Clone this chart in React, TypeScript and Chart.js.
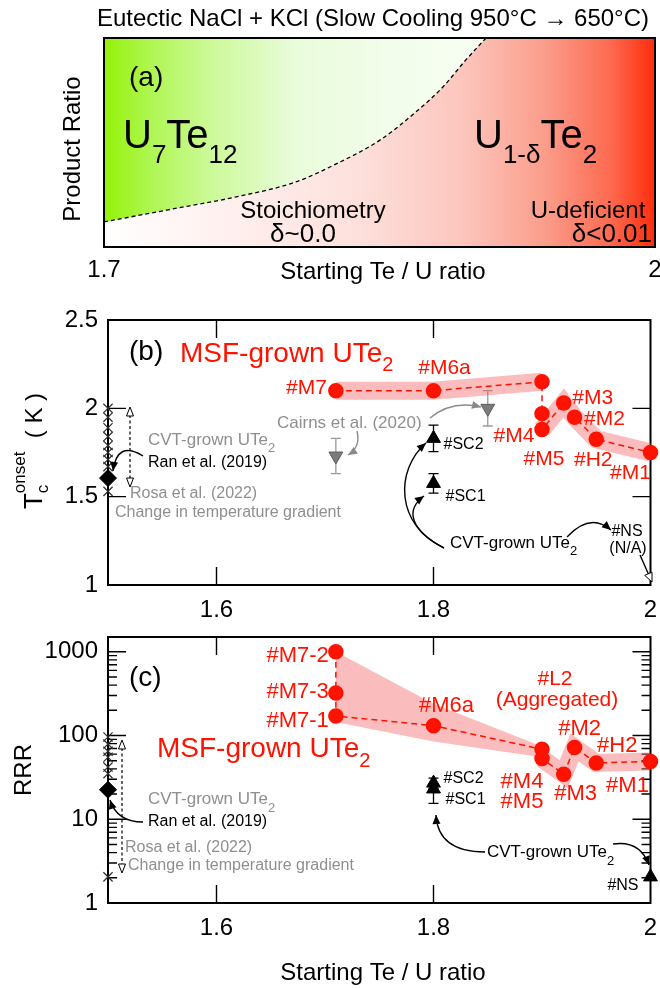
import React, { useEffect, useRef } from "react";
import { Chart, registerables } from "chart.js";

Chart.register(...registerables);

const FONT = "'Liberation Sans', Arial, Helvetica, sans-serif";
const RED = "#ff1200";
const BAND = "rgba(244, 96, 96, 0.42)";
const GRAY = "#8f8f8f";

// ---------- (a) product map ----------
const boundaryRatio = [1.7, 1.735, 1.772, 1.804, 1.827, 1.85, 1.869, 1.885, 1.896, 1.908];
const boundaryLevel = [0.12, 0.178, 0.24, 0.31, 0.4, 0.51, 0.64, 0.77, 0.885, 1.0];
const ratioTicksA = [1.7, 2.0];

// ---------- (b) onset Tc ----------
const ratioTicks = [1.6, 1.8, 2.0];
const tcTicks = [1, 1.5, 2, 2.5];
const msfNamesB = ["#M7", "#M6a", "", "#M4", "#M5", "#M3", "#M2", "#H2", "#M1"];
const msfRatioB = [1.71, 1.8, 1.9, 1.9, 1.9, 1.92, 1.93, 1.95, 2.0];
const msfTcB = [2.1, 2.1, 2.15, 1.97, 1.88, 2.03, 1.95, 1.825, 1.75];
const cairnsRatio = [1.71, 1.85];
const cairnsTc = [1.73, 2.0];
const cairnsTcErr = [0.1, 0.1];
const cvtNamesB = ["#SC2", "#SC1"];
const cvtRatioB = [1.8, 1.8];
const cvtTc = [1.83, 1.575];
const cvtTcErr = [0.075, 0.055];
const rosaTc = [2.0, 1.95, 1.89, 1.84, 1.79, 1.75, 1.71, 1.67, 1.53];
const ranTc = [1.605];

// ---------- (c) RRR ----------
const rrrTicks = [1, 10, 100, 1000];
const msfNamesC = ["#M7-2", "#M7-3", "#M7-1", "#M6a", "#M4", "#M5", "#M3", "#M2", "#H2", "#M1"];
const msfRatioC = [1.71, 1.71, 1.71, 1.8, 1.9, 1.9, 1.92, 1.93, 1.95, 2.0];
const msfRrrC = [1000, 322, 171, 131, 68.5, 53, 34.5, 72, 47, 49];
const spreadRatioC = [1.71, 1.8, 1.9];
const spreadHighC = [1000, 240, 74];
const spreadLowC = [145, 85, 55];
const cvtNamesC = ["#SC2", "#SC1", "#NS"];
const cvtRatioC = [1.8, 1.8, 2.0];
const cvtRrr = [27, 23, 2.05];
const cvtRrrLow = [26, 15.5];
const cvtRrrHigh = [31, 23];
const rosaRrr = [96, 79, 65, 55, 42, 35, 2.05];
const ranRrr = [22.5];

const LIT_RATIO = 1.5;

const xy = (xs: number[], ys: number[]) => xs.map((x, i) => ({ x, y: ys[i] }));
const pick = (arr: any[], idx: number[]) => idx.map((i) => arr[i]);

type Part = { t: string; size: number; dy?: number; stay?: boolean };
const P = (t: string, size: number, dy = 0, stay = false): Part => ({ t, size, dy, stay });

function drawParts(ctx: CanvasRenderingContext2D, parts: Part[], x: number, y: number, align: string, color: string) {
  ctx.save();
  ctx.fillStyle = color;
  ctx.textBaseline = "alphabetic";
  ctx.textAlign = "left";
  const w = parts.map((p) => {
    ctx.font = `${p.size}px ${FONT}`;
    return ctx.measureText(p.t).width;
  });
  let total = 0;
  parts.forEach((p, i) => {
    if (!p.stay) total += w[i];
  });
  let cx = align === "left" ? x : align === "right" ? x - total : x - total / 2;
  parts.forEach((p, i) => {
    ctx.font = `${p.size}px ${FONT}`;
    ctx.fillText(p.t, cx, y + (p.dy || 0));
    if (!p.stay) cx += w[i];
  });
  ctx.restore();
}

function drawRotated(ctx: CanvasRenderingContext2D, parts: Part[], x: number, y: number, color: string) {
  ctx.save();
  ctx.translate(x, y);
  ctx.rotate(-Math.PI / 2);
  drawParts(ctx, parts, 0, 0, "center", color);
  ctx.restore();
}

function head(ctx: CanvasRenderingContext2D, tip: number[], from: number[], color: string, open: boolean, len = 9, half = 4) {
  const a = Math.atan2(tip[1] - from[1], tip[0] - from[0]);
  const bx = tip[0] - len * Math.cos(a);
  const by = tip[1] - len * Math.sin(a);
  const px = -Math.sin(a) * half;
  const py = Math.cos(a) * half;
  ctx.beginPath();
  ctx.moveTo(tip[0], tip[1]);
  ctx.lineTo(bx + px, by + py);
  ctx.lineTo(bx - px, by - py);
  ctx.closePath();
  if (open) {
    ctx.fillStyle = "#fff";
    ctx.fill();
    ctx.strokeStyle = color;
    ctx.lineWidth = 1;
    ctx.setLineDash([]);
    ctx.stroke();
  } else {
    ctx.fillStyle = color;
    ctx.fill();
  }
}

// curved annotation arrow: 2 points = straight, 3 = quadratic, 4 = cubic
function arrow(ctx: CanvasRenderingContext2D, pts: number[][], color: string, open = false) {
  ctx.save();
  ctx.strokeStyle = color;
  ctx.lineWidth = 1.4;
  const end = pts[pts.length - 1];
  const prev = pts[pts.length - 2];
  ctx.beginPath();
  ctx.moveTo(pts[0][0], pts[0][1]);
  if (pts.length === 2) {
    const a = Math.atan2(end[1] - prev[1], end[0] - prev[0]);
    ctx.lineTo(end[0] - 8 * Math.cos(a), end[1] - 8 * Math.sin(a));
  } else if (pts.length === 3) ctx.quadraticCurveTo(pts[1][0], pts[1][1], end[0], end[1]);
  else ctx.bezierCurveTo(pts[1][0], pts[1][1], pts[2][0], pts[2][1], end[0], end[1]);
  ctx.stroke();
  head(ctx, end, prev, color, open);
  ctx.restore();
}

function rangeArrow(ctx: CanvasRenderingContext2D, x: number, y0: number, y1: number) {
  ctx.save();
  ctx.strokeStyle = "#000";
  ctx.lineWidth = 1.2;
  ctx.setLineDash([3, 2.5]);
  ctx.beginPath();
  ctx.moveTo(x, y0 + 8);
  ctx.lineTo(x, y1 - 8);
  ctx.stroke();
  ctx.setLineDash([]);
  head(ctx, [x, y0], [x, y0 + 10], "#000", true, 9, 3.5);
  head(ctx, [x, y1], [x, y1 - 10], "#000", true, 9, 3.5);
  ctx.restore();
}

function frameAndTicks(chart: any, xMajor: number[], yMajor: number[], yMinor: number[] = []) {
  const { ctx, chartArea: a, scales } = chart;
  ctx.save();
  ctx.strokeStyle = "#000";
  ctx.lineWidth = 1.4;
  ctx.beginPath();
  const seg = (x0: number, y0: number, x1: number, y1: number) => {
    ctx.moveTo(x0, y0);
    ctx.lineTo(x1, y1);
  };
  xMajor.forEach((v) => {
    const p = scales.x.getPixelForValue(v);
    seg(p, a.bottom, p, a.bottom - 18);
    seg(p, a.top, p, a.top + 18);
  });
  yMajor.forEach((v) => {
    const p = scales.y.getPixelForValue(v);
    seg(a.left, p, a.left + 18, p);
    seg(a.right, p, a.right - 18, p);
  });
  yMinor.forEach((v) => {
    const p = scales.y.getPixelForValue(v);
    seg(a.left, p, a.left + 9, p);
    seg(a.right, p, a.right - 9, p);
  });
  ctx.stroke();
  ctx.lineWidth = 2;
  ctx.strokeRect(a.left, a.top, a.right - a.left, a.bottom - a.top);
  ctx.restore();
}

function errorBars(chart: any, xs: number[], lo: number[], hi: number[], color: string) {
  const { ctx, scales } = chart;
  ctx.save();
  ctx.strokeStyle = color;
  ctx.lineWidth = 1.3;
  ctx.beginPath();
  lo.forEach((l, i) => {
    const x = scales.x.getPixelForValue(xs[i]);
    const y0 = scales.y.getPixelForValue(l);
    const y1 = scales.y.getPixelForValue(hi[i]);
    ctx.moveTo(x, y0);
    ctx.lineTo(x, y1);
    ctx.moveTo(x - 5, y0);
    ctx.lineTo(x + 5, y0);
    ctx.moveTo(x - 5, y1);
    ctx.lineTo(x + 5, y1);
  });
  ctx.stroke();
  ctx.restore();
}

function pointLabels(chart: any, xs: number[], ys: number[], names: string[], offs: number[][], size: number, color: string) {
  const { ctx, scales } = chart;
  names.forEach((n, i) => {
    if (!n) return;
    const o = offs[i];
    const x = scales.x.getPixelForValue(xs[i]) + o[0];
    const y = scales.y.getPixelForValue(ys[i]) + o[1];
    drawParts(ctx, [P(n, size)], x, y, o[2] === -1 ? "right" : o[2] === 1 ? "left" : "center", color);
  });
}

const fmtRatio = (v: number) => (v === 2 ? "2" : v.toFixed(1));

function ratioAxis(min: number, ticks: number[], height: number, pad: number) {
  return {
    type: "linear",
    min,
    max: 2.0,
    afterBuildTicks: (s: any) => {
      s.ticks = ticks.map((v) => ({ value: v }));
    },
    afterFit: (s: any) => {
      s.height = height;
      s.paddingLeft = 0;
      s.paddingRight = 0;
    },
    ticks: {
      autoSkip: false,
      maxRotation: 0,
      padding: pad,
      color: "#000",
      font: { family: FONT, size: 24 },
      callback: (v: any) => fmtRatio(Number(v)),
    },
    grid: { display: false, drawTicks: false },
    border: { display: false },
  };
}

function valueAxis(type: string, min: number, max: number, ticks: number[]) {
  return {
    type,
    min,
    max,
    afterBuildTicks: (s: any) => {
      s.ticks = ticks.map((v) => ({ value: v }));
    },
    afterFit: (s: any) => {
      s.width = 108;
      s.paddingTop = 0;
      s.paddingBottom = 0;
    },
    ticks: {
      autoSkip: false,
      padding: 10,
      color: "#000",
      font: { family: FONT, size: 24 },
      callback: (v: any) => String(Number(v)),
    },
    grid: { display: false, drawTicks: false },
    border: { display: false },
  };
}

const baseOptions = {
  responsive: false,
  maintainAspectRatio: false,
  devicePixelRatio: 1,
  animation: false,
  events: [],
  plugins: { legend: { display: false }, tooltip: { enabled: false } },
};

const crossStyle = {
  pointStyle: "crossRot",
  pointRadius: 6.5,
  pointBorderColor: "#2e2e2e",
  pointBorderWidth: 1.2,
  order: 0,
  clip: false,
};

const diamondStyle = {
  pointStyle: "rectRot",
  pointRadius: 8.5,
  pointBackgroundColor: "#000",
  pointBorderColor: "#000",
  order: 0,
  clip: false,
};

function configA(): any {
  return {
    type: "scatter",
    data: {
      datasets: [
        {
          data: xy(boundaryRatio, boundaryLevel),
          showLine: true,
          cubicInterpolationMode: "monotone",
          borderColor: "#000",
          borderWidth: 1.3,
          borderDash: [4, 3],
          pointRadius: 0,
          fill: "end",
          backgroundColor: (c: any) => {
            const { chart } = c;
            const a = chart.chartArea;
            if (!a) return "transparent";
            const xEnd = chart.scales.x.getPixelForValue(boundaryRatio[boundaryRatio.length - 1]);
            const g = chart.ctx.createLinearGradient(a.left, 0, xEnd, 0);
            g.addColorStop(0, "#93f207");
            g.addColorStop(0.12, "#aef651");
            g.addColorStop(0.27, "#cbf995");
            g.addColorStop(0.5, "#e9fcdb");
            g.addColorStop(0.77, "#f3fdec");
            g.addColorStop(1, "#f6fef2");
            return g;
          },
        },
      ],
    },
    options: {
      ...baseOptions,
      layout: { padding: { left: 104, right: 5, top: 38, bottom: 0 } },
      scales: {
        x: { ...ratioAxis(1.7, ratioTicksA, 43, 9) },
        y: { type: "linear", min: 0, max: 1, display: false },
      },
    },
    plugins: [
      {
        id: "panelA",
        beforeDatasetsDraw(chart: any) {
          const { ctx, chartArea: a } = chart;
          const g = ctx.createLinearGradient(a.left, 0, a.right, 0);
          g.addColorStop(0, "#ffffff");
          g.addColorStop(0.15, "#fff5f4");
          g.addColorStop(0.45, "#fde1dd");
          g.addColorStop(0.65, "#fcc6bd");
          g.addColorStop(0.8, "#fb9d8b");
          g.addColorStop(0.92, "#fd6a50");
          g.addColorStop(1, "#ff2c0c");
          ctx.save();
          ctx.fillStyle = g;
          ctx.fillRect(a.left, a.top, a.right - a.left, a.bottom - a.top);
          ctx.restore();
        },
        afterDraw(chart: any) {
          const { ctx, chartArea: a } = chart;
          ctx.save();
          ctx.strokeStyle = "#000";
          ctx.lineWidth = 2;
          ctx.strokeRect(a.left, a.top, a.right - a.left, a.bottom - a.top);
          ctx.restore();
          drawParts(ctx, [P("Eutectic NaCl + KCl (Slow Cooling 950°C → 650°C)", 24)], 373, 26, "center", "#000");
          drawParts(ctx, [P("(a)", 28)], 129, 86, "left", "#000");
          drawParts(ctx, [P("U", 40), P("7", 26, 15), P("Te", 40), P("12", 26, 15)], 123, 148, "left", "#000");
          drawParts(ctx, [P("U", 40), P("1-δ", 26, 15), P("Te", 40), P("2", 26, 15)], 474, 148, "left", "#000");
          drawParts(ctx, [P("Stoichiometry", 24)], 313, 218, "center", "#000");
          drawParts(ctx, [P("δ~0.0", 26)], 303, 242, "center", "#000");
          drawParts(ctx, [P("U-deficient", 24)], 588, 218, "center", "#000");
          drawParts(ctx, [P("δ<0.01", 26)], 652, 242, "right", "#000");
          drawParts(ctx, [P("Starting Te / U ratio", 24)], 383, 279, "center", "#000");
          drawRotated(ctx, [P("Product Ratio", 24)], 80, 149, "#000");
        },
      },
    ],
  };
}

function configB(): any {
  const band1 = [0, 1, 2];
  const band2 = [4, 5, 6, 7, 8];
  return {
    type: "scatter",
    data: {
      datasets: [
        {
          data: xy(msfRatioB, msfTcB),
          showLine: true,
          borderColor: RED,
          borderWidth: 1.5,
          borderDash: [6, 4],
          pointRadius: 7,
          pointBackgroundColor: RED,
          pointBorderColor: RED,
          order: 1,
          clip: false,
        },
        {
          data: xy(cairnsRatio, cairnsTc),
          pointStyle: "triangle",
          pointRotation: 180,
          pointRadius: 8,
          pointBackgroundColor: "#7b7b7b",
          pointBorderColor: "#5e5e5e",
          pointBorderWidth: 1,
          order: 0,
        },
        {
          data: xy(cvtRatioB, cvtTc),
          pointStyle: "triangle",
          pointRadius: 8,
          pointBackgroundColor: "#000",
          pointBorderColor: "#000",
          order: 0,
        },
        { data: rosaTc.map((y) => ({ x: LIT_RATIO, y })), ...crossStyle },
        { data: ranTc.map((y) => ({ x: LIT_RATIO, y })), ...diamondStyle },
        {
          data: pick(xy(msfRatioB, msfTcB), band1),
          showLine: true,
          borderColor: BAND,
          borderWidth: 18,
          borderCapStyle: "butt",
          borderJoinStyle: "miter",
          pointRadius: 0,
          order: 5,
        },
        {
          data: pick(xy(msfRatioB, msfTcB), band2),
          showLine: true,
          borderColor: BAND,
          borderWidth: 18,
          borderCapStyle: "butt",
          borderJoinStyle: "miter",
          pointRadius: 0,
          order: 5,
        },
      ],
    },
    options: {
      ...baseOptions,
      layout: { padding: { left: 0, right: 5, top: 30, bottom: 0 } },
      scales: {
        x: ratioAxis(1.5, ratioTicks, 45, 11),
        y: valueAxis("linear", 1, 2.5, tcTicks),
      },
    },
    plugins: [
      {
        id: "panelB",
        beforeDatasetsDraw(chart: any) {
          frameAndTicks(chart, [1.6, 1.8], [1.5, 2]);
          errorBars(chart, cairnsRatio, cairnsTc.map((v, i) => v - cairnsTcErr[i]), cairnsTc.map((v, i) => v + cairnsTcErr[i]), "#9a9a9a");
          errorBars(chart, cvtRatioB, cvtTc.map((v, i) => v - cvtTcErr[i]), cvtTc.map((v, i) => v + cvtTcErr[i]), "#000");
        },
        afterDraw(chart: any) {
          const { ctx } = chart;
          pointLabels(chart, msfRatioB, msfTcB, msfNamesB,
            [[-9, 3, -1], [11, -17], [0, 0], [-28, 28], [2, 35], [29, 1], [30, 8], [-3, 27], [-20, 26]], 21, RED);
          pointLabels(chart, cvtRatioB, cvtTc, cvtNamesB, [[10, 11, 1], [12, 18, 1]], 16, "#000");
          drawParts(ctx, [P("(b)", 28)], 129, 70, "left", "#000");
          drawParts(ctx, [P("MSF-grown UTe", 28), P("2", 20, 9)], 180, 72, "left", RED);
          drawParts(ctx, [P("Cairns et al. (2020)", 17)], 277, 138, "left", GRAY);
          drawParts(ctx, [P("CVT-grown UTe", 17), P("2", 13, 7)], 148, 155, "left", GRAY);
          drawParts(ctx, [P("Ran et al. (2019)", 16)], 148, 177, "left", "#000");
          drawParts(ctx, [P("Rosa et al. (2022)", 16)], 130, 208, "left", GRAY);
          drawParts(ctx, [P("Change in temperature gradient", 16)], 115, 227, "left", GRAY);
          drawParts(ctx, [P("CVT-grown UTe", 17), P("2", 13, 7)], 450, 258, "left", "#000");
          drawParts(ctx, [P("#NS", 16)], 627, 246, "center", "#000");
          drawParts(ctx, [P("(N/A)", 16)], 628, 263, "center", "#000");
          arrow(ctx, [[143, 166], [117, 150], [113, 181]], "#000");
          arrow(ctx, [[357, 141], [361, 157], [348, 165]], "#8a8a8a");
          arrow(ctx, [[430, 128], [452, 110], [481, 117]], "#8a8a8a");
          arrow(ctx, [[444, 258], [395, 235], [395, 180], [426, 153]], "#000");
          arrow(ctx, [[444, 258], [410, 240], [405, 220], [424, 206]], "#000");
          arrow(ctx, [[567, 247], [590, 222], [611, 240]], "#000");
          arrow(ctx, [[640, 265], [652, 292]], "#000", true);
          rangeArrow(ctx, 130, 117, 197);
          drawRotated(ctx, [P("T", 26), P("c", 17, 6, true), P("onset", 17, -17), P("  ( K )", 24)], 42, 161, "#000");
        },
      },
    ],
  };
}

function configC(): any {
  const band = [5, 6, 7, 8, 9];
  const minor: number[] = [];
  [1, 10, 100].forEach((d) => {
    for (let k = 2; k <= 9; k++) minor.push(k * d);
  });
  return {
    type: "scatter",
    data: {
      datasets: [
        {
          data: xy(msfRatioC, msfRrrC),
          showLine: true,
          borderColor: RED,
          borderWidth: 1.5,
          borderDash: [6, 4],
          pointRadius: 7,
          pointBackgroundColor: RED,
          pointBorderColor: RED,
          order: 1,
          clip: false,
        },
        {
          data: xy(cvtRatioC, cvtRrr),
          pointStyle: "triangle",
          pointRadius: 8,
          pointBackgroundColor: "#000",
          pointBorderColor: "#000",
          order: 0,
          clip: false,
        },
        { data: rosaRrr.map((y) => ({ x: LIT_RATIO, y })), ...crossStyle },
        { data: ranRrr.map((y) => ({ x: LIT_RATIO, y })), ...diamondStyle },
        {
          data: xy(spreadRatioC, spreadHighC),
          showLine: true,
          borderWidth: 0,
          borderColor: "transparent",
          pointRadius: 0,
          fill: "+1",
          backgroundColor: BAND,
          order: 6,
        },
        {
          data: xy(spreadRatioC, spreadLowC),
          showLine: true,
          borderWidth: 0,
          borderColor: "transparent",
          pointRadius: 0,
          fill: false,
          order: 6,
        },
        {
          data: pick(xy(msfRatioC, msfRrrC), band),
          showLine: true,
          borderColor: BAND,
          borderWidth: 18,
          borderCapStyle: "butt",
          borderJoinStyle: "miter",
          pointRadius: 0,
          order: 5,
        },
      ],
    },
    options: {
      ...baseOptions,
      layout: { padding: { left: 0, right: 5, top: 17, bottom: 0 } },
      scales: {
        x: ratioAxis(1.5, ratioTicks, 85, 11),
        y: valueAxis("logarithmic", 1, 1500, rrrTicks),
      },
    },
    plugins: [
      {
        id: "panelC",
        beforeDatasetsDraw(chart: any) {
          frameAndTicks(chart, [1.6, 1.8], [10, 100, 1000], minor);
          errorBars(chart, cvtRatioC.slice(0, 2), cvtRrrLow, cvtRrrHigh, "#000");
        },
        afterDraw(chart: any) {
          const { ctx } = chart;
          pointLabels(chart, msfRatioC, msfRrrC, msfNamesC,
            [[-7, 10, -1], [-7, 5, -1], [-7, 11, -1], [13, -14], [-20, 39], [-20, 49], [12, 26], [5, -12], [21, -11], [-23, 31]], 22, RED);
          pointLabels(chart, cvtRatioC, cvtRrr, cvtNamesC, [[10, 0, 1], [12, 15, 1], [-12, 13, -1]], 16, "#000");
          drawParts(ctx, [P("(c)", 28)], 129, 66, "left", "#000");
          drawParts(ctx, [P("MSF-grown UTe", 28), P("2", 20, 10)], 157, 137, "left", RED);
          drawParts(ctx, [P("#L2", 21)], 555, 65, "center", RED);
          drawParts(ctx, [P("(Aggregated)", 21)], 557, 86, "center", RED);
          drawParts(ctx, [P("CVT-grown UTe", 17), P("2", 13, 8)], 148, 184, "left", GRAY);
          drawParts(ctx, [P("Ran et al. (2019)", 16)], 148, 206, "left", "#000");
          drawParts(ctx, [P("Rosa et al. (2022)", 16)], 125, 232, "left", GRAY);
          drawParts(ctx, [P("Change in temperature gradient", 16)], 128, 250, "left", GRAY);
          drawParts(ctx, [P("CVT-grown UTe", 17), P("2", 13, 8)], 487, 237, "left", "#000");
          drawParts(ctx, [P("Starting Te / U ratio", 24)], 383, 360, "center", "#000");
          drawRotated(ctx, [P("RRR", 24)], 31, 150, "#000");
          arrow(ctx, [[143, 202], [117, 202], [110, 180]], "#000");
          arrow(ctx, [[485, 232], [438, 232], [436, 195]], "#000");
          arrow(ctx, [[613, 224], [640, 220], [649, 245]], "#000");
          rangeArrow(ctx, 122, 120, 253);
        },
      },
    ],
  };
}

export default function App() {
  const refA = useRef<HTMLCanvasElement>(null);
  const refB = useRef<HTMLCanvasElement>(null);
  const refC = useRef<HTMLCanvasElement>(null);

  useEffect(() => {
    const charts = [
      new Chart(refA.current as HTMLCanvasElement, configA()),
      new Chart(refB.current as HTMLCanvasElement, configB()),
      new Chart(refC.current as HTMLCanvasElement, configC()),
    ];
    return () => charts.forEach((c) => c.destroy());
  }, []);

  const pos = (top: number, h: number): any => ({ position: "absolute", left: 0, top, width: 660, height: h });

  return (
    <div style={{ position: "absolute", left: 0, top: 0, width: 660, height: 988, background: "#fff" }}>
      <canvas ref={refA} width={660} height={290} style={pos(0, 290)} />
      <canvas ref={refB} width={660} height={340} style={pos(290, 340)} />
      <canvas ref={refC} width={660} height={368} style={pos(620, 368)} />
    </div>
  );
}
